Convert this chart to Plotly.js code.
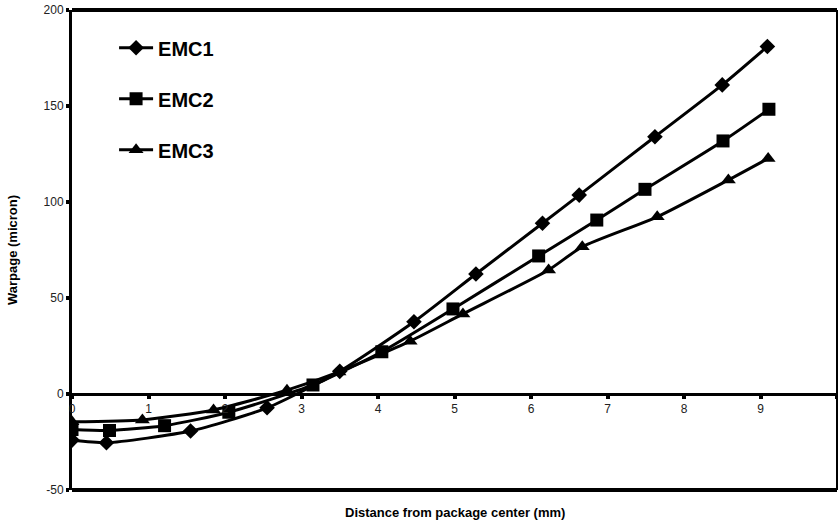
<!DOCTYPE html>
<html>
<head>
<meta charset="utf-8">
<script src="https://cdn.plot.ly/plotly-3.0.1.min.js"></script>
<style>html,body{margin:0;padding:0;background:#fff;}#chart{width:838px;height:526px;}</style>
</head>
<body>
<div id="chart"></div>
<script>
const seriesNames = ["EMC1", "EMC2", "EMC3"];
const emc1X = [0, 0.45, 1.55, 2.55, 3.5, 4.47, 5.28, 6.15, 6.63, 7.62, 8.50, 9.09];
const emc1Y = [-24, -25.4, -19.3, -7.2, 11.8, 37.6, 62.5, 88.9, 103.6, 134, 161, 181];
const emc2X = [0, 0.49, 1.21, 2.05, 3.15, 4.05, 4.98, 6.10, 6.86, 7.49, 8.51, 9.11];
const emc2Y = [-18.5, -19, -16.5, -9.5, 4.7, 22, 44.3, 71.9, 90.6, 106.6, 131.8, 148.3];
const emc3X = [0, 0.92, 1.85, 2.81, 3.49, 4.42, 5.11, 6.23, 6.67, 7.65, 8.58, 9.10];
const emc3Y = [-14.5, -13.5, -8.3, 2, 11.5, 27.5, 41.7, 64.6, 76.7, 92.3, 111.5, 122.7];
const xTicks = [0, 1, 2, 3, 4, 5, 6, 7, 8, 9, 10];
const yTicks = [-50, 0, 50, 100, 150, 200];
const xTitle = "Distance from package center (mm)";
const yTitle = "Warpage (micron)";

const symbols = ["diamond", "square", "triangle-up"];
const sizes = [12, 13, 13];
const xs = [emc1X, emc2X, emc3X];
const ys = [emc1Y, emc2Y, emc3Y];

const traces = seriesNames.map((n, i) => ({
  x: xs[i], y: ys[i], name: n, type: "scatter", mode: "lines+markers",
  legendgroup: n,
  line: {color: "#000", width: 3, shape: "spline", smoothing: 0.6},
  marker: {symbol: symbols[i], size: sizes[i], color: "#000"}
}));

const layout = {
  width: 838, height: 526,
  margin: {l: 72, r: 1, t: 10, b: 36},
  paper_bgcolor: "#fff", plot_bgcolor: "#fff",
  font: {family: "Liberation Sans, Arial, sans-serif", color: "#000", size: 12},
  showlegend: true,
  legend: {x: 0.055, y: 0.962, xanchor: "left", yanchor: "top",
    bgcolor: "rgba(0,0,0,0)", traceorder: "grouped", tracegroupgap: 22,
    font: {size: 20, weight: "bold", color: "#000"}, itemwidth: 34},
  xaxis: {range: [0, 10], tickvals: xTicks, ticktext: xTicks.map(String),
    anchor: "free", position: 0.2,
    showline: true, linewidth: 3, linecolor: "#000",
    ticks: "outside", ticklen: 3, tickwidth: 4, tickcolor: "#000",
    showgrid: false, zeroline: false, fixedrange: true,
    tickfont: {size: 12, color: "#222"}},
  yaxis: {range: [-50, 200], tickvals: yTicks, ticktext: yTicks.map(String),
    showline: true, linewidth: 3, linecolor: "#000",
    ticks: "outside", ticklen: 3, tickwidth: 4, tickcolor: "#000",
    showgrid: false, zeroline: false, fixedrange: true,
    tickfont: {size: 12, color: "#222"},
    title: {text: yTitle, standoff: 24, font: {size: 13, weight: "bold", color: "#000"}}},
  shapes: [
    {type: "line", xref: "paper", yref: "paper", x0: 0, x1: 1, y0: 1, y1: 1, line: {color: "#000", width: 4}},
    {type: "line", xref: "paper", yref: "paper", x0: 0, x1: 1, y0: 0, y1: 0, line: {color: "#000", width: 4}},
    {type: "line", xref: "paper", yref: "paper", x0: 1, x1: 1, y0: 0, y1: 1, line: {color: "#000", width: 2}}
  ],
  annotations: [
    {text: xTitle, xref: "paper", yref: "paper", x: 0.5, y: -0.028, xanchor: "center", yanchor: "top",
     showarrow: false, font: {size: 13, weight: "bold", color: "#000"}}
  ]
};

Plotly.newPlot("chart", traces, layout, {displayModeBar: false, staticPlot: true});
</script>
</body>
</html>
